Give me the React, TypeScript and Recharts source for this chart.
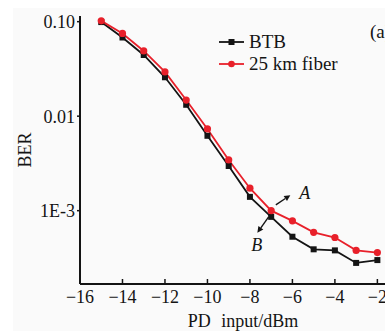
import React from "react";
import {
  LineChart,
  Line,
  XAxis,
  YAxis,
  ReferenceLine,
} from "recharts";

const power = [-15, -14, -13, -12, -11, -10, -9, -8, -7, -6, -5, -4, -3, -2];
const btb = [0.099, 0.068, 0.0444, 0.0258, 0.0132, 0.0062, 0.00297, 0.0014, 8.6e-4, 5.3e-4, 3.9e-4, 3.8e-4, 2.8e-4, 3.0e-4];
const fiber = [0.102, 0.075, 0.049, 0.0294, 0.0148, 0.00733, 0.00344, 0.00173, 0.001, 7.8e-4, 5.9e-4, 5.2e-4, 3.8e-4, 3.6e-4];
const xTicks = [-16, -14, -12, -10, -8, -6, -4, -2];
const yTicks = [0.1, 0.01, 0.001];
const yTickLabels = ["0.10", "0.01", "1E-3"];
const arrows = [
  { label: "A", from: { x: -6.78, y: 1.15e-3 }, to: { x: -6.1, y: 1.46e-3 } },
  { label: "B", from: { x: -7.12, y: 8.6e-4 }, to: { x: -7.65, y: 5.85e-4 } },
];

const data = power.map((p, i) => ({ p, btb: btb[i], fiber: fiber[i] }));

const INK = "#141414";
const RED = "#e8202a";
const FONT = "'Liberation Serif', 'DejaVu Serif', serif";

const minus = (v: number) => (v < 0 ? `\u2212${Math.abs(v)}` : `${v}`);

function XTick({ x, y, payload }: any) {
  return (
    <g>
      <line x1={x} x2={x} y1={y} y2={y - 5} stroke={INK} strokeWidth={1.5} />
      <text x={x} y={y + 19} textAnchor="middle" fontSize={18} fill={INK} fontFamily={FONT}>
        {minus(payload.value)}
      </text>
    </g>
  );
}

function Square({ cx, cy, index }: any) {
  if (cx == null || cy == null) return <g key={index} />;
  return <rect key={index} x={cx - 3} y={cy - 3} width={6} height={6} fill={INK} />;
}

function Circle({ cx, cy, index }: any) {
  if (cx == null || cy == null) return <g key={index} />;
  return <circle key={index} cx={cx} cy={cy} r={3.6} fill={RED} />;
}

function arrowShape(label: string) {
  return (props: any) => {
    const { x1, y1, x2, y2 } = props;
    const ang = Math.atan2(y2 - y1, x2 - x1);
    const L = 6;
    const W = 3;
    const bx = x2 - L * Math.cos(ang);
    const by = y2 - L * Math.sin(ang);
    const px = -Math.sin(ang) * W;
    const py = Math.cos(ang) * W;
    const lx = label === "A" ? x2 + 9 : x2 - 6;
    const ly = label === "A" ? y2 + 4 : y2 + 18;
    return (
      <g>
        <line x1={x1} y1={y1} x2={bx} y2={by} stroke={INK} strokeWidth={1.4} />
        <polygon points={`${x2},${y2} ${bx + px},${by + py} ${bx - px},${by - py}`} fill={INK} />
        <text x={lx} y={ly} fontSize={18} fontStyle="italic" fill={INK} fontFamily={FONT}>
          {label}
        </text>
      </g>
    );
  };
}

function LegendRow({ color, square, text }: { color: string; square?: boolean; text: string }) {
  return (
    <div style={{ display: "flex", alignItems: "center", height: 22 }}>
      <svg width={28} height={12} style={{ marginRight: 3 }}>
        <line x1={1} x2={26} y1={6} y2={6} stroke={color} strokeWidth={1.8} />
        {square ? (
          <rect x={10.5} y={3} width={6} height={6} fill={color} />
        ) : (
          <circle cx={13.5} cy={6} r={3.3} fill={color} />
        )}
      </svg>
      <span>{text}</span>
    </div>
  );
}

export default function App() {
  return (
    <div
      style={{
        position: "fixed",
        left: 8,
        top: 8,
        width: 377,
        height: 323,
        overflow: "hidden",
        background: "#fff",
      }}
    >
      <div style={{ position: "absolute", left: 5, top: 0, width: 372, height: 323, background: "#fafafa" }} />
      <div style={{ position: "absolute", left: 0, top: 0 }}>
        <LineChart
          width={380}
          height={323}
          data={data}
          margin={{ top: 8, right: 0, bottom: 0, left: 0 }}
        >
          <XAxis
            xAxisId="top"
            orientation="top"
            dataKey="p"
            type="number"
            domain={[-16, -1.5]}
            height={0}
            tick={false}
            tickLine={false}
            axisLine={{ stroke: INK, strokeWidth: 2 }}
          />
          <XAxis
            dataKey="p"
            type="number"
            domain={[-16, -1.5]}
            ticks={xTicks}
            allowDataOverflow
            height={47}
            tickSize={0}
            tickMargin={0}
            tick={<XTick />}
            axisLine={{ stroke: INK, strokeWidth: 2 }}
            label={{
              content: ({ viewBox }: any) => (
                <text
                  x={viewBox.x + viewBox.width / 2 + 9}
                  y={viewBox.y + 43}
                  textAnchor="middle"
                  fontSize={18}
                  fill={INK}
                  fontFamily={FONT}
                >
                  <tspan>PD</tspan>
                  <tspan dx={6}> input/dBm</tspan>
                </text>
              ),
            }}
          />
          <YAxis
            scale="log"
            type="number"
            domain={[1.675e-4, 0.1148]}
            allowDataOverflow
            ticks={yTicks}
            width={72}
            tickSize={3}
            tickMargin={2}
            tickFormatter={(v: number) => yTickLabels[yTicks.indexOf(v)] ?? String(v)}
            tick={{ fontSize: 18, fill: INK, fontFamily: FONT }}
            tickLine={{ stroke: INK, strokeWidth: 1.5 }}
            axisLine={{ stroke: INK, strokeWidth: 2 }}
            label={{
              content: ({ viewBox }: any) => {
                const cx = 17;
                const cy = viewBox.y + viewBox.height / 2;
                return (
                  <text
                    x={cx}
                    y={cy}
                    transform={`rotate(-90 ${cx} ${cy})`}
                    textAnchor="middle"
                    dominantBaseline="central"
                    fontSize={18}
                    fill={INK}
                    fontFamily={FONT}
                  >
                    BER
                  </text>
                );
              },
            }}
          />
          <Line
            dataKey="btb"
            stroke={INK}
            strokeWidth={1.8}
            dot={<Square />}
            activeDot={false}
            isAnimationActive={false}
          />
          <Line
            dataKey="fiber"
            stroke={RED}
            strokeWidth={1.8}
            dot={<Circle />}
            activeDot={false}
            isAnimationActive={false}
          />
          {arrows.map((a) => (
            <ReferenceLine
              key={a.label}
              segment={[a.from, a.to]}
              shape={arrowShape(a.label)}
              ifOverflow="visible"
            />
          ))}
        </LineChart>
      </div>
      <div
        style={{
          position: "absolute",
          left: 210,
          top: 23,
          fontFamily: FONT,
          fontSize: 19,
          color: INK,
          lineHeight: "22px",
        }}
      >
        <LegendRow color={INK} square text="BTB" />
        <LegendRow color={RED} text="25 km fiber" />
      </div>
      <div
        style={{
          position: "absolute",
          left: 362,
          top: 13,
          fontFamily: FONT,
          fontSize: 19,
          color: INK,
        }}
      >
        (a)
      </div>
    </div>
  );
}
